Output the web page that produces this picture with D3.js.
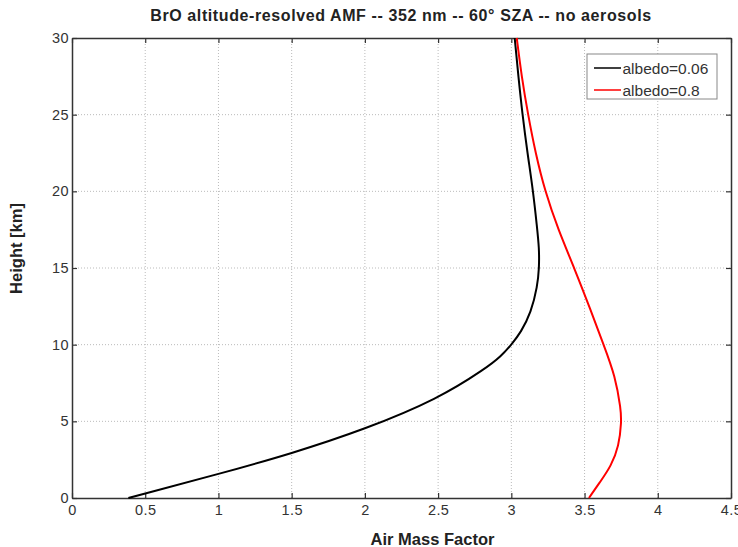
<!DOCTYPE html>
<html><head><meta charset="utf-8">
<script src="https://cdn.jsdelivr.net/npm/d3@7"></script>
<style>body{margin:0;background:#fff}svg text{font-family:"Liberation Sans",Arial,sans-serif}</style>
</head><body><svg id="c" width="738" height="547"></svg>
<script>
const title = "BrO altitude-resolved AMF -- 352 nm -- 60° SZA -- no aerosols";
const xTicks = [0,0.5,1,1.5,2,2.5,3,3.5,4,4.5];
const yTicks = [0,5,10,15,20,25,30];
const seriesNames = ["albedo=0.06","albedo=0.8"];
const seriesColors = ["#000000","#ff0000"];
const heightLow = [0,0.3,1.56,2.9,4.48,6.46,8.48,9.25,10,10.8,12.1,13.8,15,16.3,17.7,20,22.5,25,27.5,30];
const amfLow    = [0.385,0.5,1.0,1.5,2.0,2.5,2.83,2.93,3.0,3.065,3.135,3.178,3.19,3.19,3.175,3.149,3.11,3.076,3.048,3.023];
const heightHigh = [0,1.1,2.07,3.38,5,5.77,7.95,10,12.3,15,17.5,20,22.5,25,27.5,30];
const amfHigh    = [3.53,3.61,3.68,3.735,3.752,3.748,3.71,3.63,3.54,3.43,3.32,3.23,3.165,3.114,3.07,3.037];

const svg = d3.select("#c");
const L=72,R=731,T=38,B=498;
const x = d3.scaleLinear().domain([0,4.5]).range([L,R]);
const y = d3.scaleLinear().domain([0,30]).range([B,T]);

// grid
const g = svg.append("g");
g.selectAll(".gx").data(xTicks.slice(1,-1)).enter().append("line")
 .attr("x1",d=>x(d)).attr("x2",d=>x(d)).attr("y1",T).attr("y2",B)
 .attr("stroke","#bbb").attr("stroke-width",1).attr("stroke-dasharray","1,2");
g.selectAll(".gy").data(yTicks.slice(1,-1)).enter().append("line")
 .attr("y1",d=>y(d)).attr("y2",d=>y(d)).attr("x1",L).attr("x2",R)
 .attr("stroke","#bbb").attr("stroke-width",1).attr("stroke-dasharray","1,2");

// axes
const ax = svg.append("g").attr("transform",`translate(0,${B})`)
 .call(d3.axisBottom(x).tickValues(xTicks).tickFormat(d3.format("")).tickSizeInner(-5).tickSizeOuter(0).tickPadding(7));
const axT = svg.append("g").attr("transform",`translate(0,${T})`)
 .call(d3.axisTop(x).tickValues(xTicks).tickFormat("").tickSizeInner(-5).tickSizeOuter(0));
const ay = svg.append("g").attr("transform",`translate(${L},0)`)
 .call(d3.axisLeft(y).tickValues(yTicks).tickSizeInner(-5).tickSizeOuter(0).tickPadding(3));
const ayR = svg.append("g").attr("transform",`translate(${R},0)`)
 .call(d3.axisRight(y).tickValues(yTicks).tickFormat("").tickSizeInner(-5).tickSizeOuter(0));
[ax,axT,ay,ayR].forEach(a=>{
  a.selectAll("path").attr("stroke","#333").attr("stroke-width",1.5);
  a.selectAll("line").attr("stroke","#333").attr("stroke-width",1.2);
  a.selectAll("text").attr("font-size",14.5).attr("letter-spacing",0.4).attr("fill","#333");
});

// curves
const line = d3.line().x(d=>x(d[0])).y(d=>y(d[1])).curve(d3.curveBasis);
const data = [amfLow.map((v,i)=>[v,heightLow[i]]), amfHigh.map((v,i)=>[v,heightHigh[i]])];
svg.selectAll(".s").data(data).enter().append("path")
 .attr("d",line).attr("fill","none").attr("stroke",(d,i)=>seriesColors[i]).attr("stroke-width",2);

// legend
const lg = svg.append("g");
lg.append("rect").attr("x",587).attr("y",54).attr("width",130).attr("height",45)
 .attr("fill","#fff").attr("stroke","#888").attr("stroke-width",1);
seriesNames.forEach((n,i)=>{
  const yy = 68+i*22;
  lg.append("line").attr("x1",594).attr("x2",621).attr("y1",yy).attr("y2",yy)
   .attr("stroke",seriesColors[i]).attr("stroke-width",1.5);
  lg.append("text").attr("x",622.5).attr("y",yy+5.5).attr("font-size",15.5).attr("fill","#333").text(n);
});

// titles
svg.append("text").attr("x",401).attr("y",21).attr("text-anchor","middle")
 .attr("font-size",16).attr("letter-spacing",0.6).attr("font-weight","bold").attr("fill","#222").text(title);
svg.append("text").attr("x",432.5).attr("y",545).attr("text-anchor","middle")
 .attr("font-size",16.5).attr("font-weight","bold").attr("fill","#222").text("Air Mass Factor");
svg.append("text").attr("transform","translate(22,248.5) rotate(-90)").attr("text-anchor","middle")
 .attr("font-size",16.5).attr("font-weight","bold").attr("fill","#222").text("Height [km]");
</script></body></html>
